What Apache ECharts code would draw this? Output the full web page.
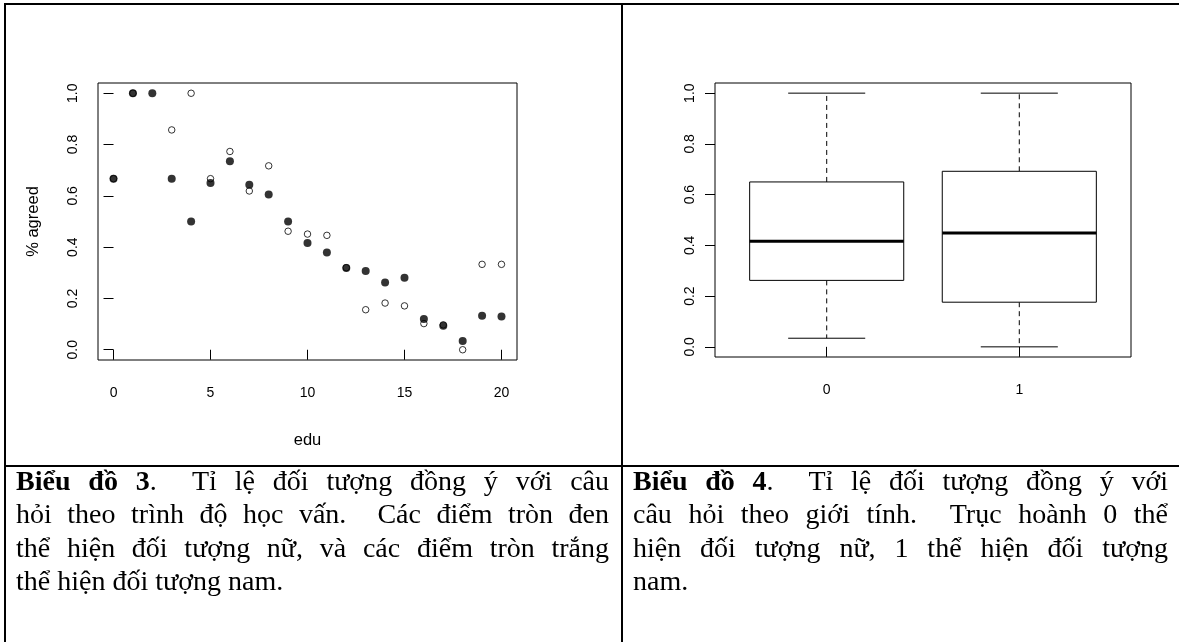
<!DOCTYPE html>
<html>
<head>
<meta charset="utf-8">
<script src="https://cdn.jsdelivr.net/npm/echarts@6/dist/echarts.min.js"></script>
<style>
  html, body { margin: 0; padding: 0; background: #fff; }
  #wrap { position: relative; width: 1179px; height: 642px; overflow: hidden; }
  #chart { position: absolute; left: 0; top: 0; width: 1179px; height: 642px; }
  .ln { position: absolute; background: #000; }
  .cap { position: absolute; font-family: "Liberation Serif", "Times New Roman", serif; font-size: 28px; color: #000; }
  .cap div { height: 33.3px; line-height: 33.3px; white-space: nowrap; }
  .cap div.j { text-align: justify; text-align-last: justify; white-space: normal; overflow: hidden; }
</style>
</head>
<body>
<div id="wrap">
  <div id="chart"></div>
  <div class="ln" style="left:4px; top:3px; width:1180px; height:2px;"></div>
  <div class="ln" style="left:4px; top:3px; width:2px; height:650px;"></div>
  <div class="ln" style="left:621px; top:3px; width:2px; height:650px;"></div>
  <div class="ln" style="left:4px; top:465px; width:1180px; height:2px;"></div>
  <div class="cap" style="left:16px; top:464px; width:593px;">
    <div class="j"><b>Biểu đồ 3</b>.&nbsp; Tỉ lệ đối tượng đồng ý với câu</div>
    <div class="j">hỏi theo trình độ học vấn.&nbsp; Các điểm tròn đen</div>
    <div class="j">thể hiện đối tượng nữ, và các điểm tròn trắng</div>
    <div>thể hiện đối tượng nam.</div>
  </div>
  <div class="cap" style="left:633px; top:464px; width:535px;">
    <div class="j"><b>Biểu đồ 4</b>.&nbsp; Tỉ lệ đối tượng đồng ý với</div>
    <div class="j">câu hỏi theo giới tính.&nbsp; Trục hoành 0 thể</div>
    <div class="j">hiện đối tượng nữ, 1 thể hiện đối tượng</div>
    <div>nam.</div>
  </div>
</div>
<script>
// ---- Data ----
const eduLevels = [0,1,2,3,4,5,6,7,8,9,10,11,12,13,14,15,16,17,18,19,20];
const filledAgreed = [0.667,1.0,1.0,0.667,0.5,0.65,0.735,0.643,0.605,0.5,0.416,0.379,0.319,0.307,0.262,0.281,0.12,0.094,0.034,0.133,0.130];
const openAgreed   = [0.667,1.0,null,0.857,1.0,0.667,0.773,0.619,0.717,0.462,0.451,0.446,0.320,0.156,0.182,0.171,0.102,0.097,0.0,0.333,0.333];

const boxGroups = ['0','1'];
const boxMin = [0.034, 0.0];
const boxQ1  = [0.262, 0.176];
const boxMed = [0.416, 0.449];
const boxQ3  = [0.650, 0.692];
const boxMax = [1.0, 1.0];

const yTicks = [0, 0.2, 0.4, 0.6, 0.8, 1.0];
const yTickLabels = ['0.0','0.2','0.4','0.6','0.8','1.0'];
const eduTicks = [0, 5, 10, 15, 20];

// ---- Build ----
const FONT = '"Liberation Sans", Arial, Helvetica, sans-serif';
const chart = echarts.init(document.getElementById('chart'), null, {renderer: 'canvas'});

const scatterFilled = [];
const scatterOpen = [];
eduLevels.forEach((e, i) => {
  if (openAgreed[i] != null) scatterOpen.push([e, openAgreed[i]]);
  if (filledAgreed[i] != null) scatterFilled.push([e, filledAgreed[i]]);
});
const boxData = boxGroups.map((g, i) => [i + 1, boxMin[i], boxQ1[i], boxMed[i], boxQ3[i], boxMax[i]]);

function yAxisCfg(gridIndex, name) {
  return {
    gridIndex, type: 'value', min: -0.04, max: 1.04,
    name: name || '', nameLocation: 'middle', nameGap: 56, nameRotate: 90,
    nameTextStyle: {fontFamily: FONT, fontSize: 16.5, color: '#000'},
    axisLine: {show: false},
    splitLine: {show: false},
    axisTick: {show: true, inside: false, length: 10, lineStyle: {color: '#000', width: 1}, customValues: yTicks},
    axisLabel: {show: true, rotate: 90, margin: 18, fontFamily: FONT, fontSize: 14, color: '#000',
      customValues: yTicks, formatter: v => yTickLabels[yTicks.findIndex(t => Math.abs(t - v) < 1e-9)]}
  };
}

const option = {
  animation: false,
  backgroundColor: 'transparent',
  grid: [
    {left: 98, top: 83, width: 419, height: 277, show: true, borderColor: '#000', borderWidth: 1, containLabel: false},
    {left: 715, top: 83, width: 416, height: 274, show: true, borderColor: '#000', borderWidth: 1, containLabel: false}
  ],
  xAxis: [
    {gridIndex: 0, type: 'value', min: -0.8, max: 20.8,
     name: 'edu', nameLocation: 'middle', nameGap: 72,
     nameTextStyle: {fontFamily: FONT, fontSize: 16.5, color: '#000'},
     axisLine: {show: false}, splitLine: {show: false},
     axisTick: {show: true, length: 10, lineStyle: {color: '#000', width: 1}, customValues: eduTicks},
     axisLabel: {show: true, margin: 26, fontFamily: FONT, fontSize: 14, color: '#000', customValues: eduTicks}},
    {gridIndex: 1, type: 'value', min: 0.42, max: 2.58,
     axisLine: {show: false}, splitLine: {show: false},
     axisTick: {show: true, length: 10, lineStyle: {color: '#000', width: 1}, customValues: [1, 2]},
     axisLabel: {show: true, margin: 26, fontFamily: FONT, fontSize: 14, color: '#000', customValues: [1, 2],
       formatter: v => boxGroups[Math.round(v) - 1]}}
  ],
  yAxis: [yAxisCfg(0, '% agreed'), yAxisCfg(1, '')],
  series: [
    {type: 'scatter', xAxisIndex: 0, yAxisIndex: 0, data: scatterOpen, symbol: 'circle', symbolSize: 6.5,
     itemStyle: {color: 'rgba(0,0,0,0)', borderColor: '#000', borderWidth: 1}, z: 2},
    {type: 'scatter', xAxisIndex: 0, yAxisIndex: 0, data: scatterFilled, symbol: 'circle', symbolSize: 8,
     itemStyle: {color: '#000', borderColor: '#000', borderWidth: 0}, z: 3},
    {type: 'custom', xAxisIndex: 1, yAxisIndex: 1, data: boxData,
     encode: {x: 0, y: [1, 2, 3, 4, 5]},
     renderItem: function (params, api) {
       const x = api.value(0);
       const pMin = api.coord([x, api.value(1)]);
       const pQ1 = api.coord([x, api.value(2)]);
       const pMed = api.coord([x, api.value(3)]);
       const pQ3 = api.coord([x, api.value(4)]);
       const pMax = api.coord([x, api.value(5)]);
       const half = api.size([0.4, 0])[0];
       const cap = api.size([0.2, 0])[0];
       const cx = pMed[0];
       return {
         type: 'group',
         children: [
           {type: 'line', shape: {x1: cx, y1: pQ3[1], x2: cx, y2: pMax[1]}, style: {stroke: '#000', lineWidth: 1, lineDash: [5, 4]}},
           {type: 'line', shape: {x1: cx, y1: pQ1[1], x2: cx, y2: pMin[1]}, style: {stroke: '#000', lineWidth: 1, lineDash: [5, 4]}},
           {type: 'line', shape: {x1: cx - cap, y1: pMax[1], x2: cx + cap, y2: pMax[1]}, style: {stroke: '#000', lineWidth: 1}},
           {type: 'line', shape: {x1: cx - cap, y1: pMin[1], x2: cx + cap, y2: pMin[1]}, style: {stroke: '#000', lineWidth: 1}},
           {type: 'rect', shape: {x: cx - half, y: pQ3[1], width: 2 * half, height: pQ1[1] - pQ3[1]}, style: {fill: '#fff', stroke: '#000', lineWidth: 1}},
           {type: 'line', shape: {x1: cx - half, y1: pMed[1], x2: cx + half, y2: pMed[1]}, style: {stroke: '#000', lineWidth: 3}}
         ]
       };
     }}
  ]
};
chart.setOption(option);
</script>
</body>
</html>
